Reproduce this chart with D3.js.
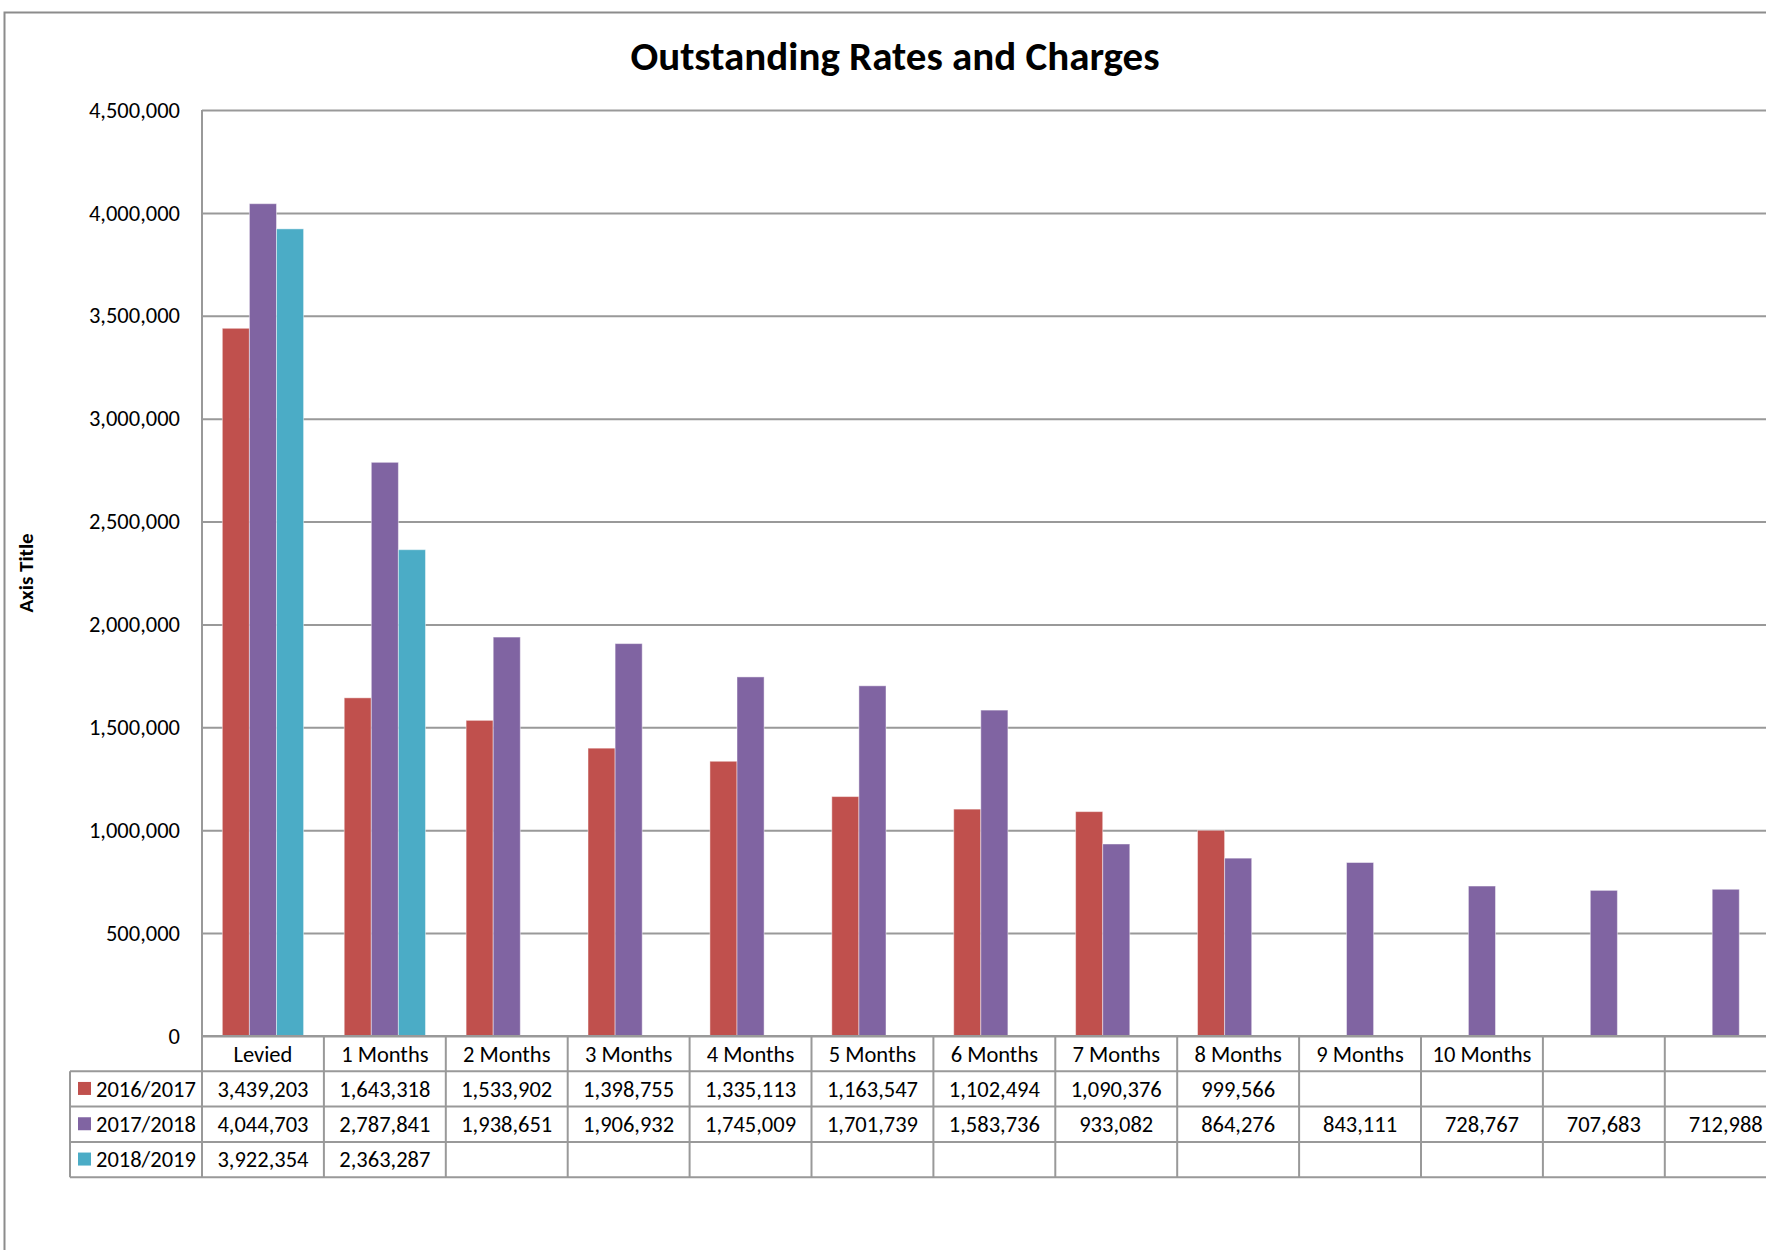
<!DOCTYPE html>
<html>
<head>
<meta charset="utf-8">
<script src="https://d3js.org/d3.v7.min.js"></script>
<style>
  body { margin: 0; background: #fff; }
  svg { display: block; font-family: Carlito, Calibri, Lato, sans-serif; }
</style>
</head>
<body>
<div id="chart"></div>
<script>
// outstanding rates and charges, excel style column chart with data table under it

var categories = ["Levied", "1 Months", "2 Months", "3 Months", "4 Months", "5 Months",
   "6 Months", "7 Months", "8 Months", "9 Months", "10 Months", "", ""];
var series_names = ["2016/2017", "2017/2018", "2018/2019"];
var values_2016 = [3439203, 1643318, 1533902, 1398755, 1335113, 1163547, 1102494, 1090376, 999566, null, null, null, null];
var values_2017 = [4044703, 2787841, 1938651, 1906932, 1745009, 1701739, 1583736, 933082, 864276, 843111, 728767, 707683, 712988];
var values_2018 = [3922354, 2363287, null, null, null, null, null, null, null, null, null, null, null];
var y_ticks = [0, 500000, 1000000, 1500000, 2000000, 2500000, 3000000, 3500000, 4000000, 4500000];
var colors = ["#C0504D", "#8064A2", "#4BACC6"];

var all_values = [values_2016, values_2017, values_2018];

var width = 1766, height = 1250;
var plot_left = 202, plot_top = 110, plot_bottom = 1036;
var band_w = 121.9;
var row_h = 35.3;
var table_left = 70;
var grid_col = "#999";
var fsize = 22.5;

var svg = d3.select("#chart").append("svg")
   .attr("width", width)
   .attr("height", height);

// outer chart frame (runs off the right and bottom of the picture)
svg.append("path")
   .attr("d", "M4.5," + height + "V12.5H" + width)
   .attr("fill", "none")
   .attr("stroke", "#8c8c8c")
   .attr("stroke-width", 2);

var x = d3.scaleBand()
   .domain(d3.range(categories.length))
   .range([plot_left, plot_left + band_w * categories.length])
   .paddingInner(0).paddingOuter(0);

// gap width 150% like excel
var xs = d3.scaleBand()
   .domain(d3.range(series_names.length))
   .range([0, x.bandwidth()])
   .paddingInner(0).paddingOuter(0.75);

var y = d3.scaleLinear()
   .domain([0, 4500000])
   .range([plot_bottom, plot_top]);

// gridlines + labels
var yaxis = d3.axisLeft(y)
   .tickValues(y_ticks)
   .tickSize(-(width - plot_left + 40))
   .tickPadding(22)
   .tickFormat(d3.format(","));

var g_y = svg.append("g")
   .attr("transform", "translate(" + plot_left + ",0)")
   .call(yaxis)
   .attr("font-family", null)
   .attr("font-size", null);
g_y.select(".domain").remove();
g_y.selectAll(".tick line")
   .attr("stroke", grid_col)
   .attr("stroke-width", 2);
g_y.selectAll(".tick text")
   .attr("font-size", fsize)
   .attr("fill", "#000");

// y axis line
svg.append("line")
   .attr("x1", plot_left).attr("x2", plot_left)
   .attr("y1", plot_top).attr("y2", plot_bottom + row_h * 4)
   .attr("stroke", grid_col)
   .attr("stroke-width", 2);

// bars
all_values.forEach(function (vals, si) {
   var bars = vals.map(function (v, ci) { return {ci: ci, v: v}; })
      .filter(function (d) { return d.v != null; });
   svg.append("g").selectAll("rect")
      .data(bars)
      .enter().append("rect")
      .attr("x", function (d) { return x(d.ci) + xs(si); })
      .attr("y", function (d) { return y(d.v); })
      .attr("width", xs.bandwidth())
      .attr("height", function (d) { return y(0) - y(d.v); })
      .attr("fill", colors[si])
      .attr("stroke", "#fff")
      .attr("stroke-opacity", 0.45)
      .attr("stroke-width", 1);
});

// data table
var table_right = x.range()[1] + 10;
var tg = svg.append("g");

// horizontal lines
for (var r = 0; r <= 4; r++) {
   tg.append("line")
      .attr("x1", r == 0 ? plot_left : table_left)
      .attr("x2", table_right)
      .attr("y1", plot_bottom + r * row_h)
      .attr("y2", plot_bottom + r * row_h)
      .attr("stroke", grid_col)
      .attr("stroke-width", 2);
}
// vertical lines
tg.append("line")
   .attr("x1", table_left).attr("x2", table_left)
   .attr("y1", plot_bottom + row_h).attr("y2", plot_bottom + row_h * 4)
   .attr("stroke", grid_col).attr("stroke-width", 2);
tg.selectAll(".vl")
   .data(d3.range(1, categories.length + 1))
   .enter().append("line")
   .attr("x1", function (d) { return x.range()[0] + d * x.step(); })
   .attr("x2", function (d) { return x.range()[0] + d * x.step(); })
   .attr("y1", plot_bottom)
   .attr("y2", plot_bottom + row_h * 4)
   .attr("stroke", grid_col).attr("stroke-width", 2);

// category labels
tg.selectAll(".cat")
   .data(categories)
   .enter().append("text")
   .attr("x", function (d, i) { return x(i) + x.bandwidth() / 2; })
   .attr("y", plot_bottom + row_h / 2)
   .attr("dy", "0.35em")
   .attr("text-anchor", "middle")
   .attr("font-size", fsize)
   .text(function (d) { return d; });

var fmt = d3.format(",");
all_values.forEach(function (vals, si) {
   var ry = plot_bottom + row_h * (si + 1) + row_h / 2;
   // legend key + name
   tg.append("rect")
      .attr("x", 78).attr("y", ry - 7)
      .attr("width", 13).attr("height", 13)
      .attr("fill", colors[si]);
   tg.append("text")
      .attr("x", 96).attr("y", ry)
      .attr("dy", "0.35em")
      .attr("font-size", fsize)
      .text(series_names[si]);
   tg.selectAll(".v" + si)
      .data(vals)
      .enter().append("text")
      .attr("x", function (d, i) { return x(i) + x.bandwidth() / 2; })
      .attr("y", ry)
      .attr("dy", "0.35em")
      .attr("text-anchor", "middle")
      .attr("font-size", fsize)
      .text(function (d) { return d == null ? "" : fmt(d); });
});

// titles
svg.append("text")
   .attr("x", 895).attr("y", 70)
   .attr("text-anchor", "middle")
   .attr("font-size", 41)
   .attr("font-weight", "bold")
   .text("Outstanding Rates and Charges");

svg.append("text")
   .attr("transform", "translate(33,573) rotate(-90)")
   .attr("text-anchor", "middle")
   .attr("font-size", 21)
   .attr("font-weight", "bold")
   .text("Axis Title");
</script>
</body>
</html>
